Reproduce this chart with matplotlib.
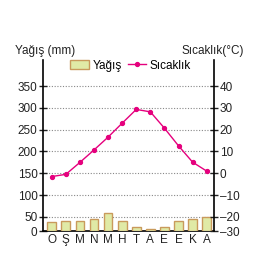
import numpy as np
import matplotlib.pyplot as plt
from matplotlib.lines import Line2D
from matplotlib.patches import Patch

# Climate chart data
months = ["O", "Ş", "M", "N", "M", "H", "T", "A", "E", "E", "K", "A"]
rain = [31, 35, 35, 43, 58, 35, 14, 7, 15, 36, 43, 48]
temp = [-1.5, -0.5, 5, 10.7, 16.6, 23, 29.3, 28.2, 20.7, 12.6, 5.1, 1]

rain_ticks = [0, 50, 100, 150, 200, 250, 300, 350]
temp_ticks = [-30, -20, -10, 0, 10, 20, 30, 40]


# the bottom 0-50 band of the original is squeezed
def fwd(v):
    v = np.asarray(v, dtype=float)
    return np.where(v < 50, v * 0.65, 32.5 + (v - 50))


def inv(y):
    y = np.asarray(y, dtype=float)
    return np.where(y < 32.5, y / 0.65, 50 + (y - 32.5))


def tfwd(t):
    return fwd(5 * np.asarray(t, dtype=float) + 150)


def tinv(y):
    return (inv(y) - 150) / 5


plt.rcParams['font.family'] = ['Liberation Sans', 'DejaVu Sans']
fig = plt.figure(figsize=(2.56, 2.79), dpi=100)
ax = fig.add_axes([0.168, 0.172, 0.668, 0.613])
ax2 = ax.twinx()

ax.set_yscale('function', functions=(fwd, inv))
ax2.set_yscale('function', functions=(tfwd, tinv))

x = np.arange(len(months))
ax.bar(x, rain, width=0.62, color='#e0eaa6', edgecolor='#c99a5c', linewidth=1.0, zorder=3)
ax2.plot(x, temp, color='#e5007d', lw=1.0, marker='o', ms=2.8, zorder=4)

top = 410
ax.set_ylim(0, top)
ax2.set_ylim(-30, (top - 150) / 5)
ax.set_xlim(-0.62, 11.52)

for v in rain_ticks[1:]:
    ax.axhline(v, color='#888888', lw=0.8, ls=(0, (1, 1.5)), zorder=1)

ax.set_yticks(rain_ticks)
ax2.set_yticks(temp_ticks)
ax2.set_yticklabels([str(t).replace('-', '\u2013') for t in temp_ticks])
ax.set_xticks(x)
ax.set_xticklabels(months)

for a in (ax, ax2):
    a.spines['top'].set_visible(False)
    a.tick_params(axis='y', direction='inout', length=6, width=1, labelsize=8.5,
                  colors='#222222', pad=1)
    a.yaxis.set_minor_locator(plt.NullLocator())
ax.tick_params(axis='x', length=0, labelsize=8.5, pad=2, colors='#222222')
ax.spines['left'].set_linewidth(1.2)
ax2.spines['right'].set_linewidth(1.2)
ax.spines['bottom'].set_linewidth(1.2)
ax2.spines['bottom'].set_visible(False)
ax2.spines['left'].set_visible(False)
ax.spines['right'].set_visible(False)

fig.text(0.06, 0.797, "Yağış (mm)", fontsize=8.5, color='#222222', va='bottom')
fig.text(0.71, 0.797, "Sıcaklık(°C)", fontsize=8.5, color='#222222', va='bottom')

handles = [Patch(facecolor='#e0eaa6', edgecolor='#c99a5c'),
           Line2D([0], [0], color='#e5007d', lw=1, marker='o', ms=2.8)]
fig.legend(handles, ["Yağış", "Sıcaklık"], loc='center', bbox_to_anchor=(0.51, 0.765),
           ncol=2, frameon=False, fontsize=8.5, handlelength=1.6, handletextpad=0.3,
           columnspacing=0.5, borderpad=0)

fig.savefig("out.png", dpi=100)
